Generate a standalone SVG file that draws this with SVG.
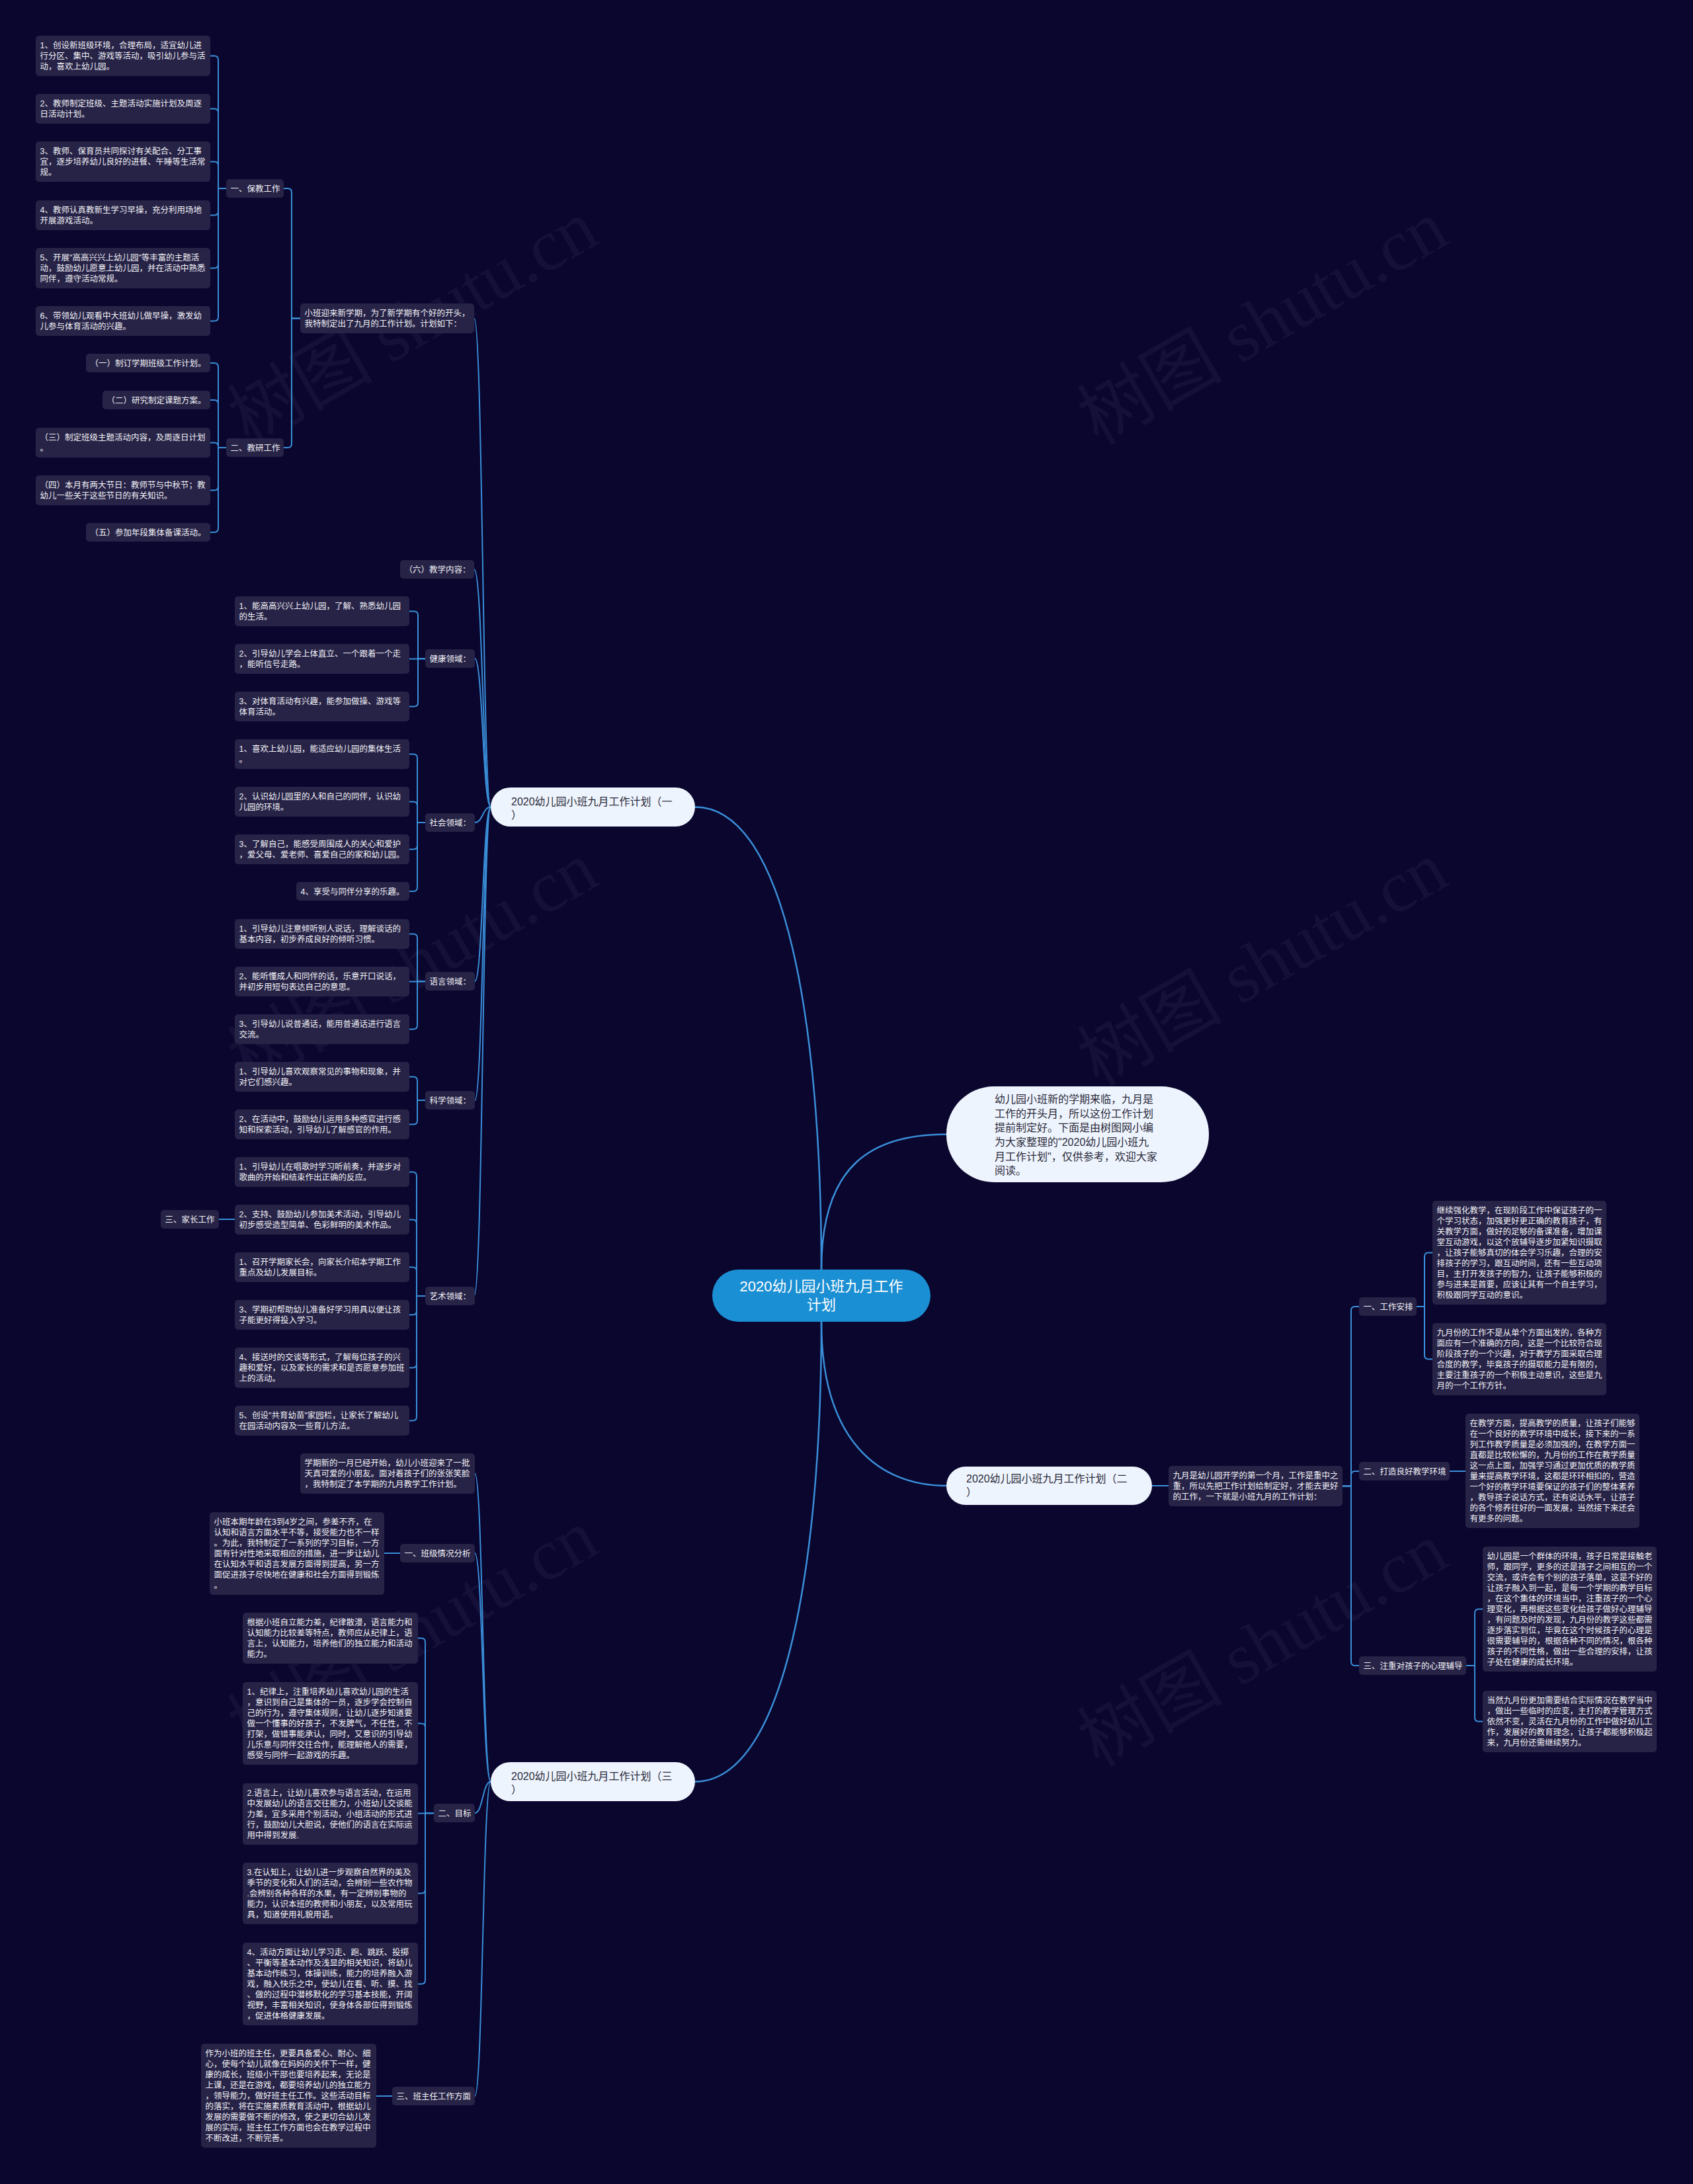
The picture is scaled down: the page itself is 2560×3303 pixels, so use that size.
<svg xmlns="http://www.w3.org/2000/svg" width="2560" height="3303" viewBox="0 0 2560 3303">
<style>
.bg{fill:#0a062e}
.box{fill:#272347}
.t{font-family:"Liberation Sans","Noto Sans CJK SC",sans-serif;font-size:12.5px;fill:#f2f2f6}
.pill{fill:#eef4fd}
.pt{font-family:"Liberation Sans","Noto Sans CJK SC",sans-serif;font-size:16px;fill:#2a2a3a}
.root{fill:#1b8fd3}
.rt{font-family:"Liberation Sans","Noto Sans CJK SC",sans-serif;font-size:22px;fill:#ffffff}
.ln{fill:none;stroke:#3a8fd9;stroke-width:2}
.mn{fill:none;stroke:#3a8fd9;stroke-width:2.5}
.wm{font-family:"Liberation Serif","Noto Sans CJK SC",serif;font-size:110px;fill:#ffffff;fill-opacity:0.045}
</style>
<rect class="bg" x="0" y="0" width="2560" height="3303"/>
<g id="watermarks">
<text class="wm" transform="translate(643,520) rotate(-30)" text-anchor="middle">树图 shutu.cn</text>
<text class="wm" transform="translate(1928,520) rotate(-30)" text-anchor="middle">树图 shutu.cn</text>
<text class="wm" transform="translate(643,1490) rotate(-30)" text-anchor="middle">树图 shutu.cn</text>
<text class="wm" transform="translate(1928,1490) rotate(-30)" text-anchor="middle">树图 shutu.cn</text>
<text class="wm" transform="translate(643,2500) rotate(-30)" text-anchor="middle">树图 shutu.cn</text>
<text class="wm" transform="translate(1928,2520) rotate(-30)" text-anchor="middle">树图 shutu.cn</text>
</g>
<g id="connectors">
<path class="mn" d="M1051 1220.5 C1190 1220.5 1242 1560 1242 1920"/>
<path class="mn" d="M1242 1920 C1242 1760 1320 1715.5 1431 1715.5"/>
<path class="mn" d="M1242 1999 C1242 2180 1330 2247 1431 2247"/>
<path class="mn" d="M1051 2694.5 C1190 2694.5 1242 2350 1242 1999"/>
<path class="ln" d="M742 1220.5 C730 1220.5 730 481.5 717 481.5"/>
<path class="ln" d="M742 1220.5 C730 1220.5 730 861 717 861"/>
<path class="ln" d="M742 1220.5 C730 1220.5 730 996 718 996"/>
<path class="ln" d="M742 1220.5 C730 1220.5 730 1244 718 1244"/>
<path class="ln" d="M742 1220.5 C730 1220.5 730 1484 718 1484"/>
<path class="ln" d="M742 1220.5 C730 1220.5 730 1664 718 1664"/>
<path class="ln" d="M742 1220.5 C730 1220.5 730 1960 717 1960"/>
<path class="ln" d="M742 2694.5 C730 2694.5 730 2228.5 718 2228.5"/>
<path class="ln" d="M742 2694.5 C730 2694.5 730 2349 718 2349"/>
<path class="ln" d="M742 2694.5 C730 2694.5 730 2742 718 2742"/>
<path class="ln" d="M742 2694.5 C730 2694.5 730 3170 718 3170"/>
<path class="ln" d="M454 481.5 H441 V291 Q441 285 435 285 H429"/>
<path class="ln" d="M454 481.5 H441 V671 Q441 677 435 677 H429"/>
<path class="ln" d="M342 285 H330 V90.5 Q330 84.5 324 84.5 H318"/>
<path class="ln" d="M342 285 H330 V170.5 Q330 164.5 324 164.5 H318"/>
<path class="ln" d="M342 285 H330 V250.5 Q330 244.5 324 244.5 H318"/>
<path class="ln" d="M342 285 H330 V319.5 Q330 325.5 324 325.5 H318"/>
<path class="ln" d="M342 285 H330 V399.5 Q330 405.5 324 405.5 H318"/>
<path class="ln" d="M342 285 H330 V479.5 Q330 485.5 324 485.5 H318"/>
<path class="ln" d="M342 677 H330 V555 Q330 549 324 549 H318"/>
<path class="ln" d="M342 677 H330 V611 Q330 605 324 605 H318"/>
<path class="ln" d="M342 677 H330 V675.5 Q330 669.5 324 669.5 H318"/>
<path class="ln" d="M342 677 H330 V735.5 Q330 741.5 324 741.5 H318"/>
<path class="ln" d="M342 677 H330 V799 Q330 805 324 805 H318"/>
<path class="ln" d="M643 996 H632 V930.5 Q632 924.5 626 924.5 H619"/>
<path class="ln" d="M643 996.5 H619"/>
<path class="ln" d="M643 996 H632 V1062.5 Q632 1068.5 626 1068.5 H619"/>
<path class="ln" d="M643 1244 H631 V1146.5 Q631 1140.5 625 1140.5 H619"/>
<path class="ln" d="M643 1244 H631 V1218.5 Q631 1212.5 625 1212.5 H619"/>
<path class="ln" d="M643 1244 H631 V1278.5 Q631 1284.5 625 1284.5 H619"/>
<path class="ln" d="M643 1244 H631 V1342 Q631 1348 625 1348 H619"/>
<path class="ln" d="M643 1484 H631 V1418.5 Q631 1412.5 625 1412.5 H619"/>
<path class="ln" d="M643 1484.5 H619"/>
<path class="ln" d="M643 1484 H631 V1550.5 Q631 1556.5 625 1556.5 H619"/>
<path class="ln" d="M643 1664 H631 V1634.5 Q631 1628.5 625 1628.5 H619"/>
<path class="ln" d="M643 1664 H631 V1694.5 Q631 1700.5 625 1700.5 H619"/>
<path class="ln" d="M643 1960 H630 V1778.5 Q630 1772.5 624 1772.5 H619"/>
<path class="ln" d="M643 1960 H630 V1850.5 Q630 1844.5 624 1844.5 H619"/>
<path class="ln" d="M643 1960 H630 V1922.5 Q630 1916.5 624 1916.5 H619"/>
<path class="ln" d="M643 1960 H630 V1982.5 Q630 1988.5 624 1988.5 H619"/>
<path class="ln" d="M643 1960 H630 V2062.5 Q630 2068.5 624 2068.5 H619"/>
<path class="ln" d="M643 1960 H630 V2142.5 Q630 2148.5 624 2148.5 H619"/>
<path class="ln" d="M331 1844 H355"/>
<path class="ln" d="M605 2349 H581"/>
<path class="ln" d="M656 2742 H643 V2483.5 Q643 2477.5 637 2477.5 H632"/>
<path class="ln" d="M656 2742 H643 V2612.5 Q643 2606.5 637 2606.5 H632"/>
<path class="ln" d="M656 2742.5 H632"/>
<path class="ln" d="M656 2742 H643 V2857.5 Q643 2863.5 637 2863.5 H632"/>
<path class="ln" d="M656 2742 H643 V2994.5 Q643 3000.5 637 3000.5 H632"/>
<path class="ln" d="M593 3170 H569"/>
<path class="ln" d="M1742 2247 H1767"/>
<path class="ln" d="M2030 2247.5 H2043 V1982 Q2043 1976 2049 1976 H2055"/>
<path class="ln" d="M2030 2247.5 H2043 V2231 Q2043 2225 2049 2225 H2055"/>
<path class="ln" d="M2030 2247.5 H2043 V2513 Q2043 2519 2049 2519 H2055"/>
<path class="ln" d="M2142 1976 H2154 V1900.5 Q2154 1894.5 2160 1894.5 H2166"/>
<path class="ln" d="M2142 1976 H2154 V2049.5 Q2154 2055.5 2160 2055.5 H2166"/>
<path class="ln" d="M2192 2225 H2216"/>
<path class="ln" d="M2217 2519 H2230 V2439.5 Q2230 2433.5 2236 2433.5 H2242"/>
<path class="ln" d="M2217 2519 H2230 V2597.5 Q2230 2603.5 2236 2603.5 H2242"/>
</g>
<g id="root"><rect class="root" x="1077" y="1920" width="330" height="79" rx="39.5"/><text class="rt" text-anchor="middle"><tspan x="1242" y="1953">2020幼儿园小班九月工作</tspan><tspan x="1242" y="1981">计划</tspan></text></g>
<g id="intro-main"><rect class="pill" x="1431" y="1643" width="397" height="145" rx="72"/><text class="pt"><tspan x="1504" y="1668">幼儿园小班新的学期来临，九月是</tspan><tspan x="1504" y="1690">工作的开头月，所以这份工作计划</tspan><tspan x="1504" y="1711">提前制定好。下面是由树图网小编</tspan><tspan x="1504" y="1733">为大家整理的"2020幼儿园小班九</tspan><tspan x="1504" y="1755">月工作计划"，仅供参考，欢迎大家</tspan><tspan x="1504" y="1776">阅读。</tspan></text></g>
<g id="branch1"><rect class="pill" x="742" y="1191" width="309" height="59" rx="29.5"/><text class="pt"><tspan x="773" y="1218">2020幼儿园小班九月工作计划（一</tspan><tspan x="773" y="1238">）</tspan></text></g>
<g id="branch2"><rect class="pill" x="1431" y="2218" width="311" height="58" rx="29"/><text class="pt"><tspan x="1461" y="2242">2020幼儿园小班九月工作计划（二</tspan><tspan x="1461" y="2262">）</tspan></text></g>
<g id="branch3"><rect class="pill" x="742" y="2665" width="309" height="59" rx="29.5"/><text class="pt"><tspan x="773" y="2692">2020幼儿园小班九月工作计划（三</tspan><tspan x="773" y="2712">）</tspan></text></g>
<g id="b1-intro"><rect class="box" x="454" y="459" width="263" height="45" rx="5"/><text class="t"><tspan x="460.5" y="477.5">小班迎来新学期，为了新学期有个好的开头，</tspan><tspan x="460.5" y="493.5">我特制定出了九月的工作计划。计划如下：</tspan></text></g>
<g id="b1-baojiao"><rect class="box" x="342" y="271" width="87" height="28" rx="5"/><text class="t"><tspan x="348.5" y="289.5">一、保教工作</tspan></text></g>
<g id="bj1"><rect class="box" x="54" y="54" width="264" height="61" rx="5"/><text class="t"><tspan x="60.5" y="72.5">1、创设新班级环境，合理布局，适宜幼儿进</tspan><tspan x="60.5" y="88.5">行分区、集中、游戏等活动，吸引幼儿参与活</tspan><tspan x="60.5" y="104.5">动，喜欢上幼儿园。</tspan></text></g>
<g id="bj2"><rect class="box" x="54" y="142" width="264" height="45" rx="5"/><text class="t"><tspan x="60.5" y="160.5">2、教师制定班级、主题活动实施计划及周逐</tspan><tspan x="60.5" y="176.5">日活动计划。</tspan></text></g>
<g id="bj3"><rect class="box" x="54" y="214" width="264" height="61" rx="5"/><text class="t"><tspan x="60.5" y="232.5">3、教师、保育员共同探讨有关配合、分工事</tspan><tspan x="60.5" y="248.5">宜，逐步培养幼儿良好的进餐、午睡等生活常</tspan><tspan x="60.5" y="264.5">规。</tspan></text></g>
<g id="bj4"><rect class="box" x="54" y="303" width="264" height="45" rx="5"/><text class="t"><tspan x="60.5" y="321.5">4、教师认真教新生学习早操，充分利用场地</tspan><tspan x="60.5" y="337.5">开展游戏活动。</tspan></text></g>
<g id="bj5"><rect class="box" x="54" y="375" width="264" height="61" rx="5"/><text class="t"><tspan x="60.5" y="393.5">5、开展"高高兴兴上幼儿园"等丰富的主题活</tspan><tspan x="60.5" y="409.5">动，鼓励幼儿愿意上幼儿园，并在活动中熟悉</tspan><tspan x="60.5" y="425.5">同伴，遵守活动常规。</tspan></text></g>
<g id="bj6"><rect class="box" x="54" y="463" width="264" height="45" rx="5"/><text class="t"><tspan x="60.5" y="481.5">6、带领幼儿观看中大班幼儿做早操，激发幼</tspan><tspan x="60.5" y="497.5">儿参与体育活动的兴趣。</tspan></text></g>
<g id="b1-jiaoyan"><rect class="box" x="342" y="663" width="87" height="28" rx="5"/><text class="t"><tspan x="348.5" y="681.5">二、教研工作</tspan></text></g>
<g id="jy1"><rect class="box" x="130" y="535" width="188" height="28" rx="5"/><text class="t"><tspan x="136.5" y="553.5">（一）制订学期班级工作计划。</tspan></text></g>
<g id="jy2"><rect class="box" x="155" y="591" width="163" height="28" rx="5"/><text class="t"><tspan x="161.5" y="609.5">（二）研究制定课题方案。</tspan></text></g>
<g id="jy3"><rect class="box" x="54" y="647" width="264" height="45" rx="5"/><text class="t"><tspan x="60.5" y="665.5">（三）制定班级主题活动内容，及周逐日计划</tspan><tspan x="60.5" y="681.5">。</tspan></text></g>
<g id="jy4"><rect class="box" x="54" y="719" width="264" height="45" rx="5"/><text class="t"><tspan x="60.5" y="737.5">（四）本月有两大节日：教师节与中秋节；教</tspan><tspan x="60.5" y="753.5">幼儿一些关于这些节日的有关知识。</tspan></text></g>
<g id="jy5"><rect class="box" x="130" y="791" width="188" height="28" rx="5"/><text class="t"><tspan x="136.5" y="809.5">（五）参加年段集体备课活动。</tspan></text></g>
<g id="b1-liu"><rect class="box" x="605" y="847" width="112" height="28" rx="5"/><text class="t"><tspan x="611.5" y="865.5">（六）教学内容：</tspan></text></g>
<g id="b1-jiankang"><rect class="box" x="643" y="982" width="75" height="28" rx="5"/><text class="t"><tspan x="649.5" y="1000.5">健康领域：</tspan></text></g>
<g id="h1"><rect class="box" x="355" y="902" width="264" height="45" rx="5"/><text class="t"><tspan x="361.5" y="920.5">1、能高高兴兴上幼儿园，了解、熟悉幼儿园</tspan><tspan x="361.5" y="936.5">的生活。</tspan></text></g>
<g id="h2"><rect class="box" x="355" y="974" width="264" height="45" rx="5"/><text class="t"><tspan x="361.5" y="992.5">2、引导幼儿学会上体直立、一个跟着一个走</tspan><tspan x="361.5" y="1008.5">，能听信号走路。</tspan></text></g>
<g id="h3"><rect class="box" x="355" y="1046" width="264" height="45" rx="5"/><text class="t"><tspan x="361.5" y="1064.5">3、对体育活动有兴趣，能参加做操、游戏等</tspan><tspan x="361.5" y="1080.5">体育活动。</tspan></text></g>
<g id="b1-shehui"><rect class="box" x="643" y="1230" width="75" height="28" rx="5"/><text class="t"><tspan x="649.5" y="1248.5">社会领域：</tspan></text></g>
<g id="s1"><rect class="box" x="355" y="1118" width="264" height="45" rx="5"/><text class="t"><tspan x="361.5" y="1136.5">1、喜欢上幼儿园，能适应幼儿园的集体生活</tspan><tspan x="361.5" y="1152.5">。</tspan></text></g>
<g id="s2"><rect class="box" x="355" y="1190" width="264" height="45" rx="5"/><text class="t"><tspan x="361.5" y="1208.5">2、认识幼儿园里的人和自己的同伴，认识幼</tspan><tspan x="361.5" y="1224.5">儿园的环境。</tspan></text></g>
<g id="s3"><rect class="box" x="355" y="1262" width="264" height="45" rx="5"/><text class="t"><tspan x="361.5" y="1280.5">3、了解自己，能感受周围成人的关心和爱护</tspan><tspan x="361.5" y="1296.5">，爱父母、爱老师、喜爱自己的家和幼儿园。</tspan></text></g>
<g id="s4"><rect class="box" x="448" y="1334" width="171" height="28" rx="5"/><text class="t"><tspan x="454.5" y="1352.5">4、享受与同伴分享的乐趣。</tspan></text></g>
<g id="b1-yuyan"><rect class="box" x="643" y="1470" width="75" height="28" rx="5"/><text class="t"><tspan x="649.5" y="1488.5">语言领域：</tspan></text></g>
<g id="l1"><rect class="box" x="355" y="1390" width="264" height="45" rx="5"/><text class="t"><tspan x="361.5" y="1408.5">1、引导幼儿注意倾听别人说话，理解谈话的</tspan><tspan x="361.5" y="1424.5">基本内容，初步养成良好的倾听习惯。</tspan></text></g>
<g id="l2"><rect class="box" x="355" y="1462" width="264" height="45" rx="5"/><text class="t"><tspan x="361.5" y="1480.5">2、能听懂成人和同伴的话，乐意开口说话，</tspan><tspan x="361.5" y="1496.5">并初步用短句表达自己的意思。</tspan></text></g>
<g id="l3"><rect class="box" x="355" y="1534" width="264" height="45" rx="5"/><text class="t"><tspan x="361.5" y="1552.5">3、引导幼儿说普通话，能用普通话进行语言</tspan><tspan x="361.5" y="1568.5">交流。</tspan></text></g>
<g id="b1-kexue"><rect class="box" x="643" y="1650" width="75" height="28" rx="5"/><text class="t"><tspan x="649.5" y="1668.5">科学领域：</tspan></text></g>
<g id="k1"><rect class="box" x="355" y="1606" width="264" height="45" rx="5"/><text class="t"><tspan x="361.5" y="1624.5">1、引导幼儿喜欢观察常见的事物和现象，并</tspan><tspan x="361.5" y="1640.5">对它们感兴趣。</tspan></text></g>
<g id="k2"><rect class="box" x="355" y="1678" width="264" height="45" rx="5"/><text class="t"><tspan x="361.5" y="1696.5">2、在活动中，鼓励幼儿运用多种感官进行感</tspan><tspan x="361.5" y="1712.5">知和探索活动，引导幼儿了解感官的作用。</tspan></text></g>
<g id="b1-yishu"><rect class="box" x="643" y="1946" width="75" height="28" rx="5"/><text class="t"><tspan x="649.5" y="1964.5">艺术领域：</tspan></text></g>
<g id="a1"><rect class="box" x="355" y="1750" width="264" height="45" rx="5"/><text class="t"><tspan x="361.5" y="1768.5">1、引导幼儿在唱歌时学习听前奏，并逐步对</tspan><tspan x="361.5" y="1784.5">歌曲的开始和结束作出正确的反应。</tspan></text></g>
<g id="a2"><rect class="box" x="355" y="1822" width="264" height="45" rx="5"/><text class="t"><tspan x="361.5" y="1840.5">2、支持、鼓励幼儿参加美术活动，引导幼儿</tspan><tspan x="361.5" y="1856.5">初步感受造型简单、色彩鲜明的美术作品。</tspan></text></g>
<g id="jiazhang"><rect class="box" x="243" y="1830" width="88" height="28" rx="5"/><text class="t"><tspan x="249.5" y="1848.5">三、家长工作</tspan></text></g>
<g id="a3"><rect class="box" x="355" y="1894" width="264" height="45" rx="5"/><text class="t"><tspan x="361.5" y="1912.5">1、召开学期家长会，向家长介绍本学期工作</tspan><tspan x="361.5" y="1928.5">重点及幼儿发展目标。</tspan></text></g>
<g id="a4"><rect class="box" x="355" y="1966" width="264" height="45" rx="5"/><text class="t"><tspan x="361.5" y="1984.5">3、学期初帮助幼儿准备好学习用具以便让孩</tspan><tspan x="361.5" y="2000.5">子能更好得投入学习。</tspan></text></g>
<g id="a5"><rect class="box" x="355" y="2038" width="264" height="61" rx="5"/><text class="t"><tspan x="361.5" y="2056.5">4、接送时的交谈等形式，了解每位孩子的兴</tspan><tspan x="361.5" y="2072.5">趣和爱好，以及家长的需求和是否愿意参加班</tspan><tspan x="361.5" y="2088.5">上的活动。</tspan></text></g>
<g id="a6"><rect class="box" x="355" y="2126" width="264" height="45" rx="5"/><text class="t"><tspan x="361.5" y="2144.5">5、创设"共育幼苗"家园栏，让家长了解幼儿</tspan><tspan x="361.5" y="2160.5">在园活动内容及一些育儿方法。</tspan></text></g>
<g id="b3-intro"><rect class="box" x="454" y="2198" width="264" height="61" rx="5"/><text class="t"><tspan x="460.5" y="2216.5">学期新的一月已经开始，幼儿小班迎来了一批</tspan><tspan x="460.5" y="2232.5">天真可爱的小朋友。面对着孩子们的张张笑脸</tspan><tspan x="460.5" y="2248.5">，我特制定了本学期的九月教学工作计划。</tspan></text></g>
<g id="b3-banji"><rect class="box" x="605" y="2335" width="113" height="28" rx="5"/><text class="t"><tspan x="611.5" y="2353.5">一、班级情况分析</tspan></text></g>
<g id="banji-c"><rect class="box" x="317" y="2287" width="264" height="125" rx="5"/><text class="t"><tspan x="323.5" y="2305.5">小班本期年龄在3到4岁之间，参差不齐，在</tspan><tspan x="323.5" y="2321.5">认知和语言方面水平不等，接受能力也不一样</tspan><tspan x="323.5" y="2337.5">。为此，我特制定了一系列的学习目标，一方</tspan><tspan x="323.5" y="2353.5">面有针对性地采取相应的措施，进一步让幼儿</tspan><tspan x="323.5" y="2369.5">在认知水平和语言发展方面得到提高，另一方</tspan><tspan x="323.5" y="2385.5">面促进孩子尽快地在健康和社会方面得到锻炼</tspan><tspan x="323.5" y="2401.5">。</tspan></text></g>
<g id="b3-mubiao"><rect class="box" x="656" y="2728" width="62" height="28" rx="5"/><text class="t"><tspan x="662.5" y="2746.5">二、目标</tspan></text></g>
<g id="g0"><rect class="box" x="367" y="2439" width="265" height="77" rx="5"/><text class="t"><tspan x="373.5" y="2457.5">根据小班自立能力差，纪律散漫，语言能力和</tspan><tspan x="373.5" y="2473.5">认知能力比较差等特点，教师应从纪律上，语</tspan><tspan x="373.5" y="2489.5">言上，认知能力，培养他们的独立能力和活动</tspan><tspan x="373.5" y="2505.5">能力。</tspan></text></g>
<g id="g1"><rect class="box" x="367" y="2544" width="265" height="125" rx="5"/><text class="t"><tspan x="373.5" y="2562.5">1、纪律上，注重培养幼儿喜欢幼儿园的生活</tspan><tspan x="373.5" y="2578.5">，意识到自己是集体的一员，逐步学会控制自</tspan><tspan x="373.5" y="2594.5">己的行为，遵守集体规则，让幼儿逐步知道要</tspan><tspan x="373.5" y="2610.5">做一个懂事的好孩子，不发脾气，不任性，不</tspan><tspan x="373.5" y="2626.5">打架，做错事能承认，同时，又意识的引导幼</tspan><tspan x="373.5" y="2642.5">儿乐意与同伴交往合作，能理解他人的需要，</tspan><tspan x="373.5" y="2658.5">感受与同伴一起游戏的乐趣。</tspan></text></g>
<g id="g2"><rect class="box" x="367" y="2697" width="265" height="93" rx="5"/><text class="t"><tspan x="373.5" y="2715.5">2.语言上，让幼儿喜欢参与语言活动，在运用</tspan><tspan x="373.5" y="2731.5">中发展幼儿的语言交往能力，小班幼儿交谈能</tspan><tspan x="373.5" y="2747.5">力差，宜多采用个别活动，小组活动的形式进</tspan><tspan x="373.5" y="2763.5">行，鼓励幼儿大胆说，使他们的语言在实际运</tspan><tspan x="373.5" y="2779.5">用中得到发展.</tspan></text></g>
<g id="g3"><rect class="box" x="367" y="2817" width="265" height="93" rx="5"/><text class="t"><tspan x="373.5" y="2835.5">3.在认知上，让幼儿进一步观察自然界的美及</tspan><tspan x="373.5" y="2851.5">季节的变化和人们的活动，会辨别一些农作物</tspan><tspan x="373.5" y="2867.5">.会辨别各种各样的水果，有一定辨别事物的</tspan><tspan x="373.5" y="2883.5">能力，认识本班的教师和小朋友，以及常用玩</tspan><tspan x="373.5" y="2899.5">具，知道使用礼貌用语。</tspan></text></g>
<g id="g4"><rect class="box" x="367" y="2938" width="265" height="125" rx="5"/><text class="t"><tspan x="373.5" y="2956.5">4、活动方面让幼儿学习走、跑、跳跃、投掷</tspan><tspan x="373.5" y="2972.5">、平衡等基本动作及浅显的相关知识，将幼儿</tspan><tspan x="373.5" y="2988.5">基本动作练习，体操训练，能力的培养融入游</tspan><tspan x="373.5" y="3004.5">戏，融入快乐之中，使幼儿在看、听、摸、找</tspan><tspan x="373.5" y="3020.5">、做的过程中潜移默化的学习基本技能，开阔</tspan><tspan x="373.5" y="3036.5">视野，丰富相关知识，使身体各部位得到锻炼</tspan><tspan x="373.5" y="3052.5">，促进体格健康发展。</tspan></text></g>
<g id="b3-banzhuren"><rect class="box" x="593" y="3156" width="125" height="28" rx="5"/><text class="t"><tspan x="599.5" y="3174.5">三、班主任工作方面</tspan></text></g>
<g id="banzhuren-c"><rect class="box" x="304" y="3091" width="265" height="157" rx="5"/><text class="t"><tspan x="310.5" y="3109.5">作为小班的班主任，更要具备爱心、耐心、细</tspan><tspan x="310.5" y="3125.5">心，使每个幼儿就像在妈妈的关怀下一样，健</tspan><tspan x="310.5" y="3141.5">康的成长，班级小干部也要培养起来，无论是</tspan><tspan x="310.5" y="3157.5">上课，还是在游戏，都要培养幼儿的独立能力</tspan><tspan x="310.5" y="3173.5">，领导能力，做好班主任工作。这些活动目标</tspan><tspan x="310.5" y="3189.5">的落实，将在实施素质教育活动中，根据幼儿</tspan><tspan x="310.5" y="3205.5">发展的需要做不断的修改，使之更切合幼儿发</tspan><tspan x="310.5" y="3221.5">展的实际，班主任工作方面也会在教学过程中</tspan><tspan x="310.5" y="3237.5">不断改进，不断完善。</tspan></text></g>
<g id="b2-intro"><rect class="box" x="1767" y="2217" width="263" height="61" rx="5"/><text class="t"><tspan x="1773.5" y="2235.5">九月是幼儿园开学的第一个月，工作是重中之</tspan><tspan x="1773.5" y="2251.5">重，所以先把工作计划给制定好，才能去更好</tspan><tspan x="1773.5" y="2267.5">的工作，一下就是小班九月的工作计划：</tspan></text></g>
<g id="b2-anpai"><rect class="box" x="2055" y="1962" width="87" height="28" rx="5"/><text class="t"><tspan x="2061.5" y="1980.5">一、工作安排</tspan></text></g>
<g id="w1"><rect class="box" x="2166" y="1816" width="263" height="157" rx="5"/><text class="t"><tspan x="2172.5" y="1834.5">继续强化教学，在现阶段工作中保证孩子的一</tspan><tspan x="2172.5" y="1850.5">个学习状态，加强更好更正确的教育孩子，有</tspan><tspan x="2172.5" y="1866.5">关教学方面，做好的足够的备课准备，增加课</tspan><tspan x="2172.5" y="1882.5">堂互动游戏，以这个放辅导逐步加紧知识摄取</tspan><tspan x="2172.5" y="1898.5">，让孩子能够真切的体会学习乐趣，合理的安</tspan><tspan x="2172.5" y="1914.5">排孩子的学习，跟互动时间，还有一些互动项</tspan><tspan x="2172.5" y="1930.5">目，主打开发孩子的智力，让孩子能够积极的</tspan><tspan x="2172.5" y="1946.5">参与进来是首要，应该让其有一个自主学习，</tspan><tspan x="2172.5" y="1962.5">积极跟同学互动的意识。</tspan></text></g>
<g id="w2"><rect class="box" x="2166" y="2001" width="263" height="109" rx="5"/><text class="t"><tspan x="2172.5" y="2019.5">九月份的工作不是从单个方面出发的，各种方</tspan><tspan x="2172.5" y="2035.5">面应有一个准确的方向，这是一个比较符合现</tspan><tspan x="2172.5" y="2051.5">阶段孩子的一个兴趣，对于教学方面采取合理</tspan><tspan x="2172.5" y="2067.5">合度的教学，毕竟孩子的摄取能力是有限的，</tspan><tspan x="2172.5" y="2083.5">主要注重孩子的一个积极主动意识，这些是九</tspan><tspan x="2172.5" y="2099.5">月的一个工作方针。</tspan></text></g>
<g id="b2-huanjing"><rect class="box" x="2055" y="2211" width="137" height="28" rx="5"/><text class="t"><tspan x="2061.5" y="2229.5">二、打造良好教学环境</tspan></text></g>
<g id="e1"><rect class="box" x="2216" y="2138" width="263" height="173" rx="5"/><text class="t"><tspan x="2222.5" y="2156.5">在教学方面，提高教学的质量，让孩子们能够</tspan><tspan x="2222.5" y="2172.5">在一个良好的教学环境中成长，接下来的一系</tspan><tspan x="2222.5" y="2188.5">列工作教学质量是必须加强的，在教学方面一</tspan><tspan x="2222.5" y="2204.5">直都是比较松懈的，九月份的工作在教学质量</tspan><tspan x="2222.5" y="2220.5">这一点上面，加强学习通过更加优质的教学质</tspan><tspan x="2222.5" y="2236.5">量来提高教学环境，这都是环环相扣的，营造</tspan><tspan x="2222.5" y="2252.5">一个好的教学环境要保证的孩子们的整体素养</tspan><tspan x="2222.5" y="2268.5">，教导孩子说话方式，还有说话水平，让孩子</tspan><tspan x="2222.5" y="2284.5">的各个修养往好的一面发展，当然接下来还会</tspan><tspan x="2222.5" y="2300.5">有更多的问题。</tspan></text></g>
<g id="b2-xinli"><rect class="box" x="2055" y="2505" width="162" height="28" rx="5"/><text class="t"><tspan x="2061.5" y="2523.5">三、注重对孩子的心理辅导</tspan></text></g>
<g id="p1"><rect class="box" x="2242" y="2339" width="263" height="189" rx="5"/><text class="t"><tspan x="2248.5" y="2357.5">幼儿园是一个群体的环境，孩子日常是接触老</tspan><tspan x="2248.5" y="2373.5">师，跟同学，更多的还是孩子之间相互的一个</tspan><tspan x="2248.5" y="2389.5">交流，或许会有个别的孩子落单，这是不好的</tspan><tspan x="2248.5" y="2405.5">让孩子融入到一起，是每一个学期的教学目标</tspan><tspan x="2248.5" y="2421.5">，在这个集体的环境当中，注重孩子的一个心</tspan><tspan x="2248.5" y="2437.5">理变化，再根据这些变化给孩子做好心理辅导</tspan><tspan x="2248.5" y="2453.5">，有问题及时的发现，九月份的教学这些都需</tspan><tspan x="2248.5" y="2469.5">逐步落实到位，毕竟在这个时候孩子的心理是</tspan><tspan x="2248.5" y="2485.5">很需要辅导的，根据各种不同的情况，根各种</tspan><tspan x="2248.5" y="2501.5">孩子的不同性格，做出一些合理的安排，让孩</tspan><tspan x="2248.5" y="2517.5">子处在健康的成长环境。</tspan></text></g>
<g id="p2"><rect class="box" x="2242" y="2557" width="263" height="93" rx="5"/><text class="t"><tspan x="2248.5" y="2575.5">当然九月份更加需要结合实际情况在教学当中</tspan><tspan x="2248.5" y="2591.5">，做出一些临时的应变，主打的教学管理方式</tspan><tspan x="2248.5" y="2607.5">依然不变，灵活在九月份的工作中做好幼儿工</tspan><tspan x="2248.5" y="2623.5">作，发展好的教育理念，让孩子都能够积极起</tspan><tspan x="2248.5" y="2639.5">来，九月份还需继续努力。</tspan></text></g>
</svg>
